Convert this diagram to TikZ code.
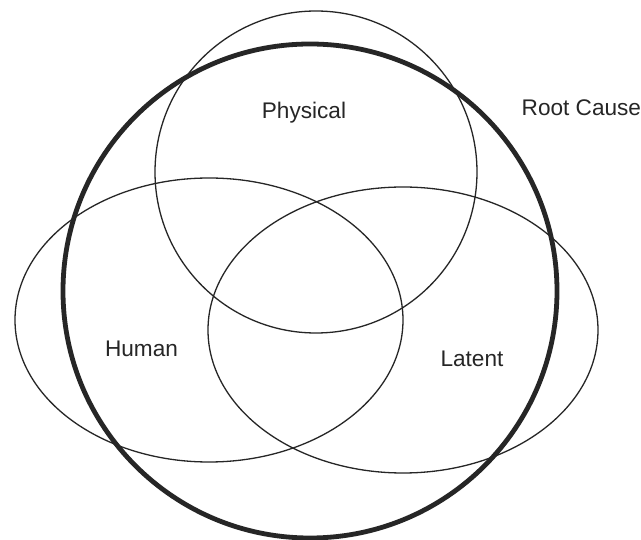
\documentclass[tikz,border=0pt]{standalone}
\usepackage{fontspec}
\setmainfont{Liberation Sans}
\begin{document}
\begin{tikzpicture}[x=1pt,y=-1pt,
  thinline/.style={draw=black!85,line width=1.3pt},
  thickline/.style={draw=black!85,line width=4.8pt},
  lbl/.style={font=\fontsize{22.6}{26}\selectfont,text=black!85,inner sep=0pt,anchor=base}]
\useasboundingbox (0,0) rectangle (641,540);
\fill[white] (0,0) rectangle (641,540);
\draw[thinline] (316,172) circle[radius=161];
\draw[thinline] (209,320) ellipse[x radius=194,y radius=142];
\draw[thinline] (403,330) ellipse[x radius=195,y radius=143];
\draw[thickline] (310,291) circle[radius=247];
\node[lbl] (physical) at (304,119) {Physical};
\node[lbl,anchor=base west] (root) at (521.5,116) {Root Cause};
\node[lbl] (human) at (141.5,356.5) {Human};
\node[lbl] (latent) at (472,366.5) {Latent};
\end{tikzpicture}
\end{document}
